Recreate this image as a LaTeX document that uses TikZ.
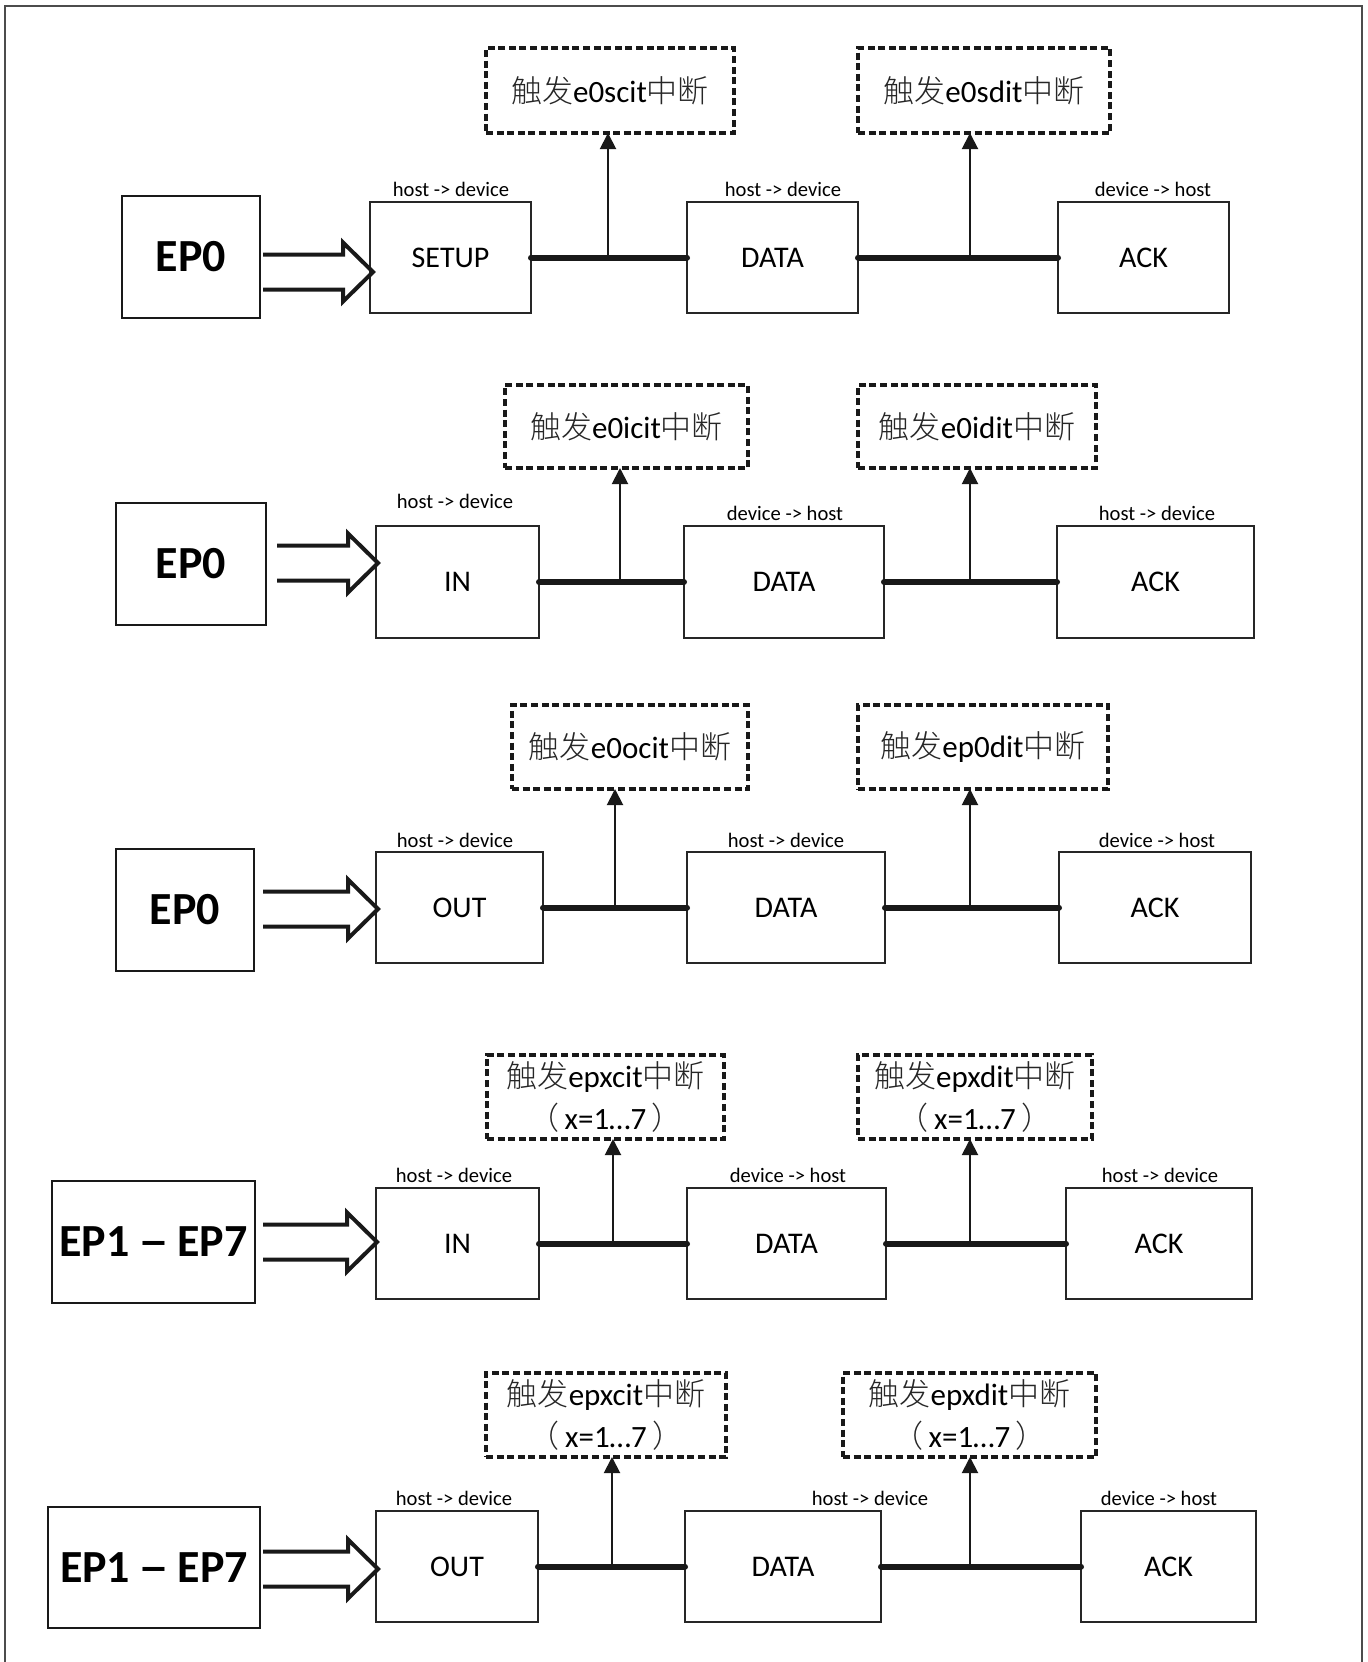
\documentclass[tikz,border=0pt]{standalone}
\usepackage{fontspec}
\setmainfont{Carlito}
\IfFontExistsTF{Noto Sans CJK SC Light}{\newfontfamily\cjk{Noto Sans CJK SC Light}}{\newfontfamily\cjk{Noto Sans CJK SC}}
\usetikzlibrary{calc,arrows.meta}

\newcommand{\zh}[1]{{\cjk\color{black!85}#1}}
\newcommand{\xrange}{\zh{（}\hspace{0.18em}x=1…7\hspace{0.18em}\zh{）}}
\newcommand{\eprange}{EP1\hspace{0.18em}\scalebox{1.35}[1]{--}\hspace{0.18em}EP7}
\newcommand{\rect}[7]{\node[#1, minimum width={(#5-#3)*0.5pt}, minimum height={(#6-#4)*0.5pt}] (#2) at ({(#3+#5)/2},{(#4+#6)/2}) {#7};}
% block arrow from start coordinate #1 to tip coordinate #2
\newcommand{\blockarrow}[2]{\draw[blockarr] ($(#1)+(0,-17.5)$) -- ($(#2)+(-30,-17.5)$) -- ($(#2)+(-30,-29.5)$) -- (#2) -- ($(#2)+(-30,29.5)$) -- ($(#2)+(-30,17.5)$) -- ($(#1)+(0,17.5)$);}

\tikzset{
 every node/.style={inner sep=0pt, outer sep=0pt},
 box/.style={draw=black!85, line width=1pt, font=\fontsize{15}{18}\selectfont},
 epbox/.style={draw=black!90, line width=1.4pt, font=\fontsize{23}{27}\selectfont\bfseries},
 dbox/.style={draw=black!90, line width=1.6pt, dash pattern=on 3.5pt off 1.8pt, font=\fontsize{15.5}{21}\selectfont, align=center},
 lbl/.style={font=\fontsize{10.3}{12}\selectfont},
 bus/.style={line width=3pt, line cap=round, draw=black!90},
 varr/.style={line width=1pt, draw=black!90, -{Triangle[length=8pt,width=8pt]}},
 blockarr/.style={line width=2pt, line join=miter, draw=black!90},
 frame/.style={line width=1pt, draw=black!70},
}

\begin{document}
\begin{tikzpicture}[x=0.5pt,y=-0.5pt]
\useasboundingbox (0,0) rectangle (1368,1662);
\draw[frame] (5,1662) -- (5,6) -- (1362,6) -- (1362,1662);

% ---------------- Row 1 ----------------
\rect{epbox}{ep1}{122}{196}{260}{318}{EP0}
\rect{box}{b11}{370}{202}{531}{313}{SETUP}
\rect{box}{b12}{687}{202}{858}{313}{DATA}
\rect{box}{b13}{1058}{202}{1229}{313}{ACK}
\rect{dbox}{d11}{486}{48}{734}{133}{\zh{触发}e0scit\zh{中断}}
\rect{dbox}{d12}{858}{48}{1110}{133}{\zh{触发}e0sdit\zh{中断}}
\node[lbl] (l11) at (451,189) {host -> device};
\node[lbl] (l12) at (783,189) {host -> device};
\node[lbl] (l13) at (1153,189) {device -> host};
\coordinate (t1) at ($(b11.west)+(3,14.5)$);
\coordinate (s1x) at ($(ep1.east)+(3,0)$);
\coordinate (s1) at (s1x |- t1);
\blockarrow{s1}{t1}
\draw[bus] (b11.east) -- (b12.west);
\draw[bus] (b12.east) -- (b13.west);
\coordinate (j11) at ($(b11.east)!(608,0)!(b12.west)$);
\coordinate (j12) at ($(b12.east)!(970,0)!(b13.west)$);
\draw[varr] (j11) -- (j11 |- d11.south);
\draw[varr] (j12) -- (j12 |- d12.south);

% ---------------- Row 2 ----------------
\rect{epbox}{ep2}{116}{503}{266}{625}{EP0}
\rect{box}{b21}{376}{526}{539}{638}{IN}
\rect{box}{b22}{684}{526}{884}{638}{DATA}
\rect{box}{b23}{1057}{526}{1254}{638}{ACK}
\rect{dbox}{d21}{505}{385}{748}{468}{\zh{触发}e0icit\zh{中断}}
\rect{dbox}{d22}{858}{385}{1096}{468}{\zh{触发}e0idit\zh{中断}}
\node[lbl] (l21) at (455,501) {host -> device};
\node[lbl] (l22) at (785,513) {device -> host};
\node[lbl] (l23) at (1157,513) {host -> device};
\coordinate (t2) at ($(b21.west)+(2,-19)$);
\coordinate (s2x) at ($(ep2.east)+(11,0)$);
\coordinate (s2) at (s2x |- t2);
\blockarrow{s2}{t2}
\draw[bus] (b21.east) -- (b22.west);
\draw[bus] (b22.east) -- (b23.west);
\coordinate (j21) at ($(b21.east)!(620,0)!(b22.west)$);
\coordinate (j22) at ($(b22.east)!(970,0)!(b23.west)$);
\draw[varr] (j21) -- (j21 |- d21.south);
\draw[varr] (j22) -- (j22 |- d22.south);

% ---------------- Row 3 ----------------
\rect{epbox}{ep3}{116}{849}{254}{971}{EP0}
\rect{box}{b31}{376}{852}{543}{963}{OUT}
\rect{box}{b32}{687}{852}{885}{963}{DATA}
\rect{box}{b33}{1059}{852}{1251}{963}{ACK}
\rect{dbox}{d31}{512}{705}{748}{789}{\zh{触发}e0ocit\zh{中断}}
\rect{dbox}{d32}{858}{705}{1108}{789}{\zh{触发}ep0dit\zh{中断}}
\node[lbl] (l31) at (455,840) {host -> device};
\node[lbl] (l32) at (786,840) {host -> device};
\node[lbl] (l33) at (1157,840) {device -> host};
\coordinate (t3) at ($(b31.west)+(2,1.5)$);
\coordinate (s3x) at ($(ep3.east)+(9,0)$);
\coordinate (s3) at (s3x |- t3);
\blockarrow{s3}{t3}
\draw[bus] (b31.east) -- (b32.west);
\draw[bus] (b32.east) -- (b33.west);
\coordinate (j31) at ($(b31.east)!(615,0)!(b32.west)$);
\coordinate (j32) at ($(b32.east)!(970,0)!(b33.west)$);
\draw[varr] (j31) -- (j31 |- d31.south);
\draw[varr] (j32) -- (j32 |- d32.south);

% ---------------- Row 4 ----------------
\rect{epbox}{ep4}{52}{1181}{255}{1303}{\eprange}
\rect{box}{b41}{376}{1188}{539}{1299}{IN}
\rect{box}{b42}{687}{1188}{886}{1299}{DATA}
\rect{box}{b43}{1066}{1188}{1252}{1299}{ACK}
\rect{dbox}{d41}{487}{1055}{724}{1139}{\zh{触发}epxcit\zh{中断}\\\xrange}
\rect{dbox}{d42}{858}{1055}{1092}{1139}{\zh{触发}epxdit\zh{中断}\\\xrange}
\node[lbl] (l41) at (454,1175) {host -> device};
\node[lbl] (l42) at (788,1175) {device -> host};
\node[lbl] (l43) at (1160,1175) {host -> device};
\coordinate (t4) at ($(b41.west)+(1,-1.5)$);
\coordinate (s4x) at ($(ep4.east)+(8,0)$);
\coordinate (s4) at (s4x |- t4);
\blockarrow{s4}{t4}
\draw[bus] (b41.east) -- (b42.west);
\draw[bus] (b42.east) -- (b43.west);
\coordinate (j41) at ($(b41.east)!(613,0)!(b42.west)$);
\coordinate (j42) at ($(b42.east)!(970,0)!(b43.west)$);
\draw[varr] (j41) -- (j41 |- d41.south);
\draw[varr] (j42) -- (j42 |- d42.south);

% ---------------- Row 5 ----------------
\rect{epbox}{ep5}{48}{1507}{260}{1628}{\eprange}
\rect{box}{b51}{376}{1511}{538}{1622}{OUT}
\rect{box}{b52}{685}{1511}{881}{1622}{DATA}
\rect{box}{b53}{1081}{1511}{1256}{1622}{ACK}
\rect{dbox}{d51}{486}{1373}{726}{1457}{\zh{触发}epxcit\zh{中断}\\\xrange}
\rect{dbox}{d52}{843}{1373}{1096}{1457}{\zh{触发}epxdit\zh{中断}\\\xrange}
\node[lbl] (l51) at (454,1498) {host -> device};
\node[lbl] (l52) at (870,1498) {host -> device};
\node[lbl] (l53) at (1159,1498) {device -> host};
\coordinate (t5) at ($(b51.west)+(2,2.5)$);
\coordinate (s5x) at ($(ep5.east)+(3,0)$);
\coordinate (s5) at (s5x |- t5);
\blockarrow{s5}{t5}
\draw[bus] (b51.east) -- (b52.west);
\draw[bus] (b52.east) -- (b53.west);
\coordinate (j51) at ($(b51.east)!(612,0)!(b52.west)$);
\coordinate (j52) at ($(b52.east)!(970,0)!(b53.west)$);
\draw[varr] (j51) -- (j51 |- d51.south);
\draw[varr] (j52) -- (j52 |- d52.south);
\end{tikzpicture}
\end{document}
